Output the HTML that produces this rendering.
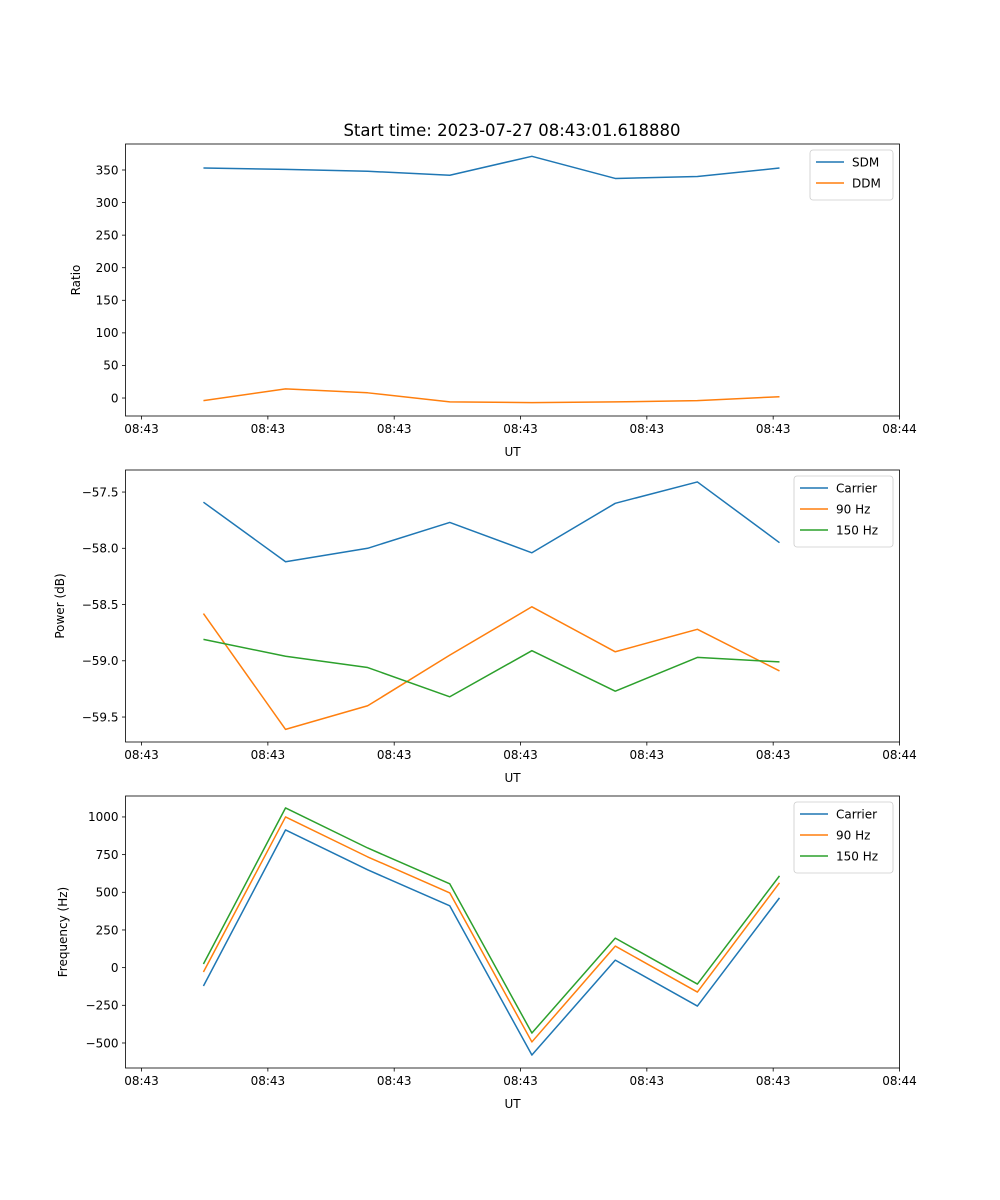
<!DOCTYPE html>
<html><head><meta charset="utf-8"><style>
html,body{margin:0;padding:0;background:#fff;}
svg{display:block;font-family:"DejaVu Sans","Liberation Sans",sans-serif;}
</style></head><body>
<svg id="fig" width="1000" height="1200" viewBox="0 0 1000 1200" xmlns="http://www.w3.org/2000/svg">
<rect width="1000" height="1200" fill="#fff"/>
<text x="512" y="136" font-size="16.5" text-anchor="middle">Start time: 2023-07-27 08:43:01.618880</text>
</svg>
<script>
// shared x data (seconds from reference tick 0)
const xTicks = [0, 10, 20, 30, 40, 50, 60];
const xTickLabels = ["08:43","08:43","08:43","08:43","08:43","08:43","08:44"];
const times = [4.9, 11.4, 17.9, 24.4, 30.9, 37.5, 44.0, 50.5];

// panel 1: ratio
const sdm = [353, 351, 348, 342, 371, 337, 340, 353];
const ddm = [-4, 14, 8, -6, -7, -6, -4, 2];
const ratioTicks = [0, 50, 100, 150, 200, 250, 300, 350];

// panel 2: power
const powCarrier = [-57.59, -58.12, -58.00, -57.77, -58.04, -57.60, -57.41, -57.95];
const pow90 = [-58.58, -59.61, -59.40, -58.95, -58.52, -58.92, -58.72, -59.09];
const pow150 = [-58.81, -58.96, -59.06, -59.32, -58.91, -59.27, -58.97, -59.01];
const powTicks = [-59.5, -59.0, -58.5, -58.0, -57.5];
const powTickLabels = ["\u221259.5","\u221259.0","\u221258.5","\u221258.0","\u221257.5"];

// panel 3: frequency
const freqCarrier = [-122, 914, 649, 410, -580, 50, -255, 463];
const freq90 = [-29, 1000, 735, 496, -493, 143, -162, 563];
const freq150 = [24, 1060, 794, 556, -434, 196, -109, 609];
const freqTicks = [-500, -250, 0, 250, 500, 750, 1000];
const freqTickLabels = ["\u2212500","\u2212250","0","250","500","750","1000"];

const NS = "http://www.w3.org/2000/svg";
const svg = document.getElementById("fig");
function mk(tag, attrs, parent){
  const e = document.createElementNS(NS, tag);
  for (const k in attrs) e.setAttribute(k, attrs[k]);
  (parent||svg).appendChild(e);
  return e;
}
const L = 125.5, R = 899.5;
const xMin = -1.27, xMax = 60.0;
function xs(v){ return L + (v - xMin) / (xMax - xMin) * (R - L); }

function panel(name, top, bottom, yMin, yMax, yTicks, yLabels, yTitle, series, legend){
  const g = mk("g", {});
  
  
  const ys = v => bottom - (v - yMin) / (yMax - yMin) * (bottom - top);
  series.forEach(s => {
    const d = times.map((t,i) => (i ? "L" : "M") + xs(t).toFixed(2) + " " + ys(s.vals[i]).toFixed(2)).join(" ");
    const p = mk("path", {d: d, fill: "none", stroke: s.color, "stroke-width": 1.5, "stroke-linejoin": "round"}, g);
    
    
  });
  const fr = mk("rect", {x: L, y: top, width: R - L, height: bottom - top, fill: "none", stroke: "#000", "stroke-width": 0.8}, g);
  
  
  xTicks.forEach((t,i) => {
    const x = xs(t);
    mk("line", {x1: x, x2: x, y1: bottom, y2: bottom + 3.5, stroke: "#000", "stroke-width": 0.8}, g);
    const tx = mk("text", {x: x, y: bottom + 17, "font-size": 12, "text-anchor": "middle"}, g);
    tx.textContent = xTickLabels[i];
    
    
  });
  const xl = mk("text", {x: (L + R) / 2, y: bottom + 40, "font-size": 12, "text-anchor": "middle"}, g);
  xl.textContent = "UT";
  
  
  yTicks.forEach((t,i) => {
    const y = ys(t);
    mk("line", {x1: L - 3.5, x2: L, y1: y, y2: y, stroke: "#000", "stroke-width": 0.8}, g);
    const tx = mk("text", {x: L - 7, y: y + 4.3, "font-size": 12, "text-anchor": "end"}, g);
    tx.textContent = yLabels[i];
    
    
  });
  const yt = mk("text", {x: 0, y: 0, "font-size": 12, "text-anchor": "middle", transform: "translate(" + yTitle.x + "," + (top + bottom) / 2 + ") rotate(-90)"}, g);
  yt.textContent = yTitle.text;
  
  
  const lg = mk("g", {}, g);
  
  
  mk("rect", {x: legend.x, y: top + 6, width: legend.w, height: 8 + series.length * 21, rx: 3, fill: "#fff", stroke: "#ccc", "stroke-width": 0.8}, lg);
  series.forEach((s,i) => {
    const y = top + 18 + i * 21;
    mk("line", {x1: legend.x + 6, x2: legend.x + 34, y1: y, y2: y, stroke: s.color, "stroke-width": 1.5}, lg);
    const tx = mk("text", {x: legend.x + 42, y: y + 4.5, "font-size": 12}, lg);
    tx.textContent = s.label;
    
    
  });
}

panel("ratio-panel", 144, 416, -27.6, 389.9, ratioTicks, ratioTicks.map(String), {x: 80, text: "Ratio"},
  [{key:"sdm", label:"SDM", color:"#1f77b4", vals: sdm},{key:"ddm", label:"DDM", color:"#ff7f0e", vals: ddm}],
  {x: 810, w: 83});
panel("power-panel", 470, 742, -59.722, -57.304, powTicks, powTickLabels, {x: 64, text: "Power (dB)"},
  [{key:"carrier", label:"Carrier", color:"#1f77b4", vals: powCarrier},{key:"hz90", label:"90 Hz", color:"#ff7f0e", vals: pow90},{key:"hz150", label:"150 Hz", color:"#2ca02c", vals: pow150}],
  {x: 794, w: 99});
panel("frequency-panel", 796, 1068, -666, 1139, freqTicks, freqTickLabels, {x: 67, text: "Frequency (Hz)"},
  [{key:"carrier", label:"Carrier", color:"#1f77b4", vals: freqCarrier},{key:"hz90", label:"90 Hz", color:"#ff7f0e", vals: freq90},{key:"hz150", label:"150 Hz", color:"#2ca02c", vals: freq150}],
  {x: 794, w: 99});
</script>
</body></html>
